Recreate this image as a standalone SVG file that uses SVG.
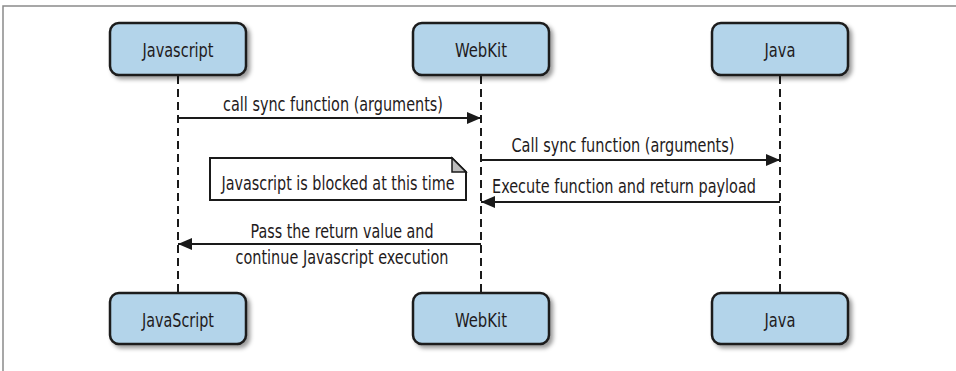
<svg xmlns="http://www.w3.org/2000/svg" width="956" height="371" viewBox="0 0 956 371">
<style>
.box{fill:#b3d4ea;stroke:#1a1a1a;stroke-width:2.5;}
.life{stroke:#1a1a1a;stroke-width:2;stroke-dasharray:8,5;fill:none;}
.msg{stroke:#1a1a1a;stroke-width:2;fill:none;}
text{font-family:"Liberation Sans Narrow","DejaVu Sans Condensed","Liberation Sans",sans-serif;font-size:19.5px;fill:#1f1b1c;}
.c{text-anchor:middle;}
</style>
<defs>
<filter id="sh" x="-10%" y="-20%" width="130%" height="160%">
<feDropShadow dx="3" dy="3" stdDeviation="2" flood-color="#000" flood-opacity="0.4"/>
</filter>
<marker id="ah" viewBox="0 0 14 12" refX="14" refY="6" markerWidth="14" markerHeight="12" markerUnits="userSpaceOnUse" orient="auto">
<path d="M0,0 L14,6 L0,12 Z" fill="#1a1a1a"/>
</marker>
</defs>
<path d="M3,371 V6 H956" fill="none" stroke="#8a8a8a" stroke-width="1.5"/>
<g id="connectors">
<line class="life" x1="178" y1="76" x2="178" y2="293"/>
<line class="life" x1="481" y1="76" x2="481" y2="293"/>
<line class="life" x1="780" y1="76" x2="780" y2="293"/>
<line class="msg" x1="178" y1="118" x2="481" y2="118" marker-end="url(#ah)"/>
<text class="c" x="333" y="111" textLength="220" lengthAdjust="spacingAndGlyphs">call sync function (arguments)</text>
<line class="msg" x1="481" y1="160" x2="780" y2="160" marker-end="url(#ah)"/>
<text class="c" x="623" y="152" textLength="223" lengthAdjust="spacingAndGlyphs">Call sync function (arguments)</text>
<line class="msg" x1="780" y1="202" x2="481" y2="202" marker-end="url(#ah)"/>
<text class="c" x="624" y="193" textLength="264" lengthAdjust="spacingAndGlyphs">Execute function and return payload</text>
<line class="msg" x1="481" y1="244" x2="178" y2="244" marker-end="url(#ah)"/>
<text class="c" x="342" y="238" textLength="183" lengthAdjust="spacingAndGlyphs">Pass the return value and</text>
<text class="c" x="342" y="264" textLength="213" lengthAdjust="spacingAndGlyphs">continue Javascript execution</text>
</g>
<g id="note">
<path d="M210,158 H452 L466,172 V200 H210 Z" fill="#fff" stroke="#1a1a1a" stroke-width="2"/>
<path d="M452,158 V172 H466 Z" fill="#bdbdbd" stroke="#1a1a1a" stroke-width="1.5"/>
<text class="c" x="338" y="190" textLength="233" lengthAdjust="spacingAndGlyphs">Javascript is blocked at this time</text>
</g>
<g id="js-top"><rect class="box" x="110" y="23" width="136" height="52" rx="9" filter="url(#sh)"/><text class="c" x="178" y="57" textLength="71" lengthAdjust="spacingAndGlyphs">Javascript</text></g>
<g id="webkit-top"><rect class="box" x="413" y="23" width="136" height="52" rx="9" filter="url(#sh)"/><text class="c" x="481" y="57" textLength="52" lengthAdjust="spacingAndGlyphs">WebKit</text></g>
<g id="java-top"><rect class="box" x="712" y="23" width="136" height="52" rx="9" filter="url(#sh)"/><text class="c" x="780" y="57" textLength="31" lengthAdjust="spacingAndGlyphs">Java</text></g>
<g id="js-bottom"><rect class="box" x="110" y="293" width="136" height="51" rx="9" filter="url(#sh)"/><text class="c" x="178" y="327" textLength="72" lengthAdjust="spacingAndGlyphs">JavaScript</text></g>
<g id="webkit-bottom"><rect class="box" x="413" y="293" width="136" height="51" rx="9" filter="url(#sh)"/><text class="c" x="481" y="327" textLength="52" lengthAdjust="spacingAndGlyphs">WebKit</text></g>
<g id="java-bottom"><rect class="box" x="712" y="293" width="136" height="51" rx="9" filter="url(#sh)"/><text class="c" x="780" y="327" textLength="31" lengthAdjust="spacingAndGlyphs">Java</text></g>
</svg>
